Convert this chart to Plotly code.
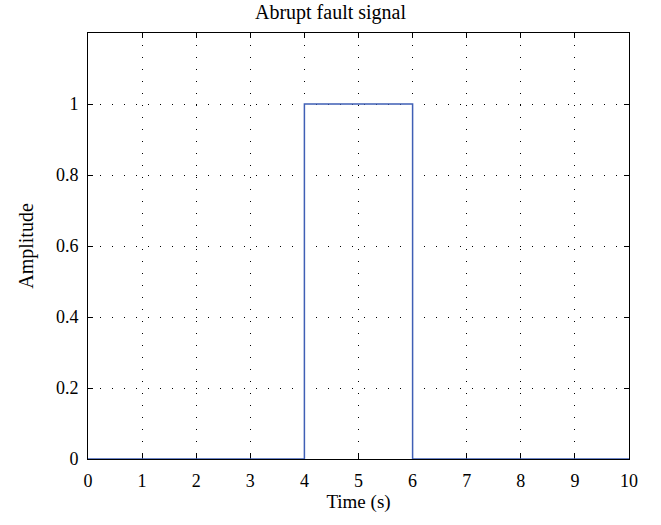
import plotly.graph_objects as go

# abrupt fault: step up at 4 s, back down at 6 s
time_s = [0, 4, 4, 6, 6, 10]
amplitude = [0, 0, 1, 1, 0, 0]

x_ticks = [0, 1, 2, 3, 4, 5, 6, 7, 8, 9, 10]
y_ticks = [0, 0.2, 0.4, 0.6, 0.8, 1]
y_tick_labels = ["0", "0.2", "0.4", "0.6", "0.8", "1"]

fig = go.Figure()
fig.add_trace(go.Scatter(x=time_s, y=amplitude, mode="lines",
                         line=dict(color="#3f5fb5", width=1.5),
                         showlegend=False))

axis_style = dict(
    showline=True, linecolor="black", linewidth=1, mirror="ticks",
    ticks="inside", ticklen=5, tickcolor="black", tickwidth=1,
    showgrid=True, gridcolor="black", gridwidth=1, griddash="1px,11px",
    zeroline=False, layer="below traces",
    tickfont=dict(size=18, color="black"),
    ticklabelstandoff=5,
)

fig.update_xaxes(range=[0, 10], tickvals=x_ticks,
                 title=dict(text="Time (s)", font=dict(size=19, color="black"), standoff=2),
                 **axis_style)
fig.update_yaxes(range=[0, 1.2], tickvals=y_ticks, ticktext=y_tick_labels,
                 title=dict(text="Amplitude", font=dict(size=20, color="black"), standoff=16),
                 **axis_style)

fig.update_layout(
    width=661, height=525,
    margin=dict(l=88, r=32, t=33, b=66),
    paper_bgcolor="white", plot_bgcolor="white",
    font=dict(family="Liberation Serif, serif", color="black"),
    title=dict(text="Abrupt fault signal", x=0.5, xanchor="center",
               y=(525 - 12) / 525, yanchor="middle", font=dict(size=20, color="black")),
)

fig.write_html("out.html", config={"displayModeBar": False},
               post_script="document.body.style.margin='0';")
